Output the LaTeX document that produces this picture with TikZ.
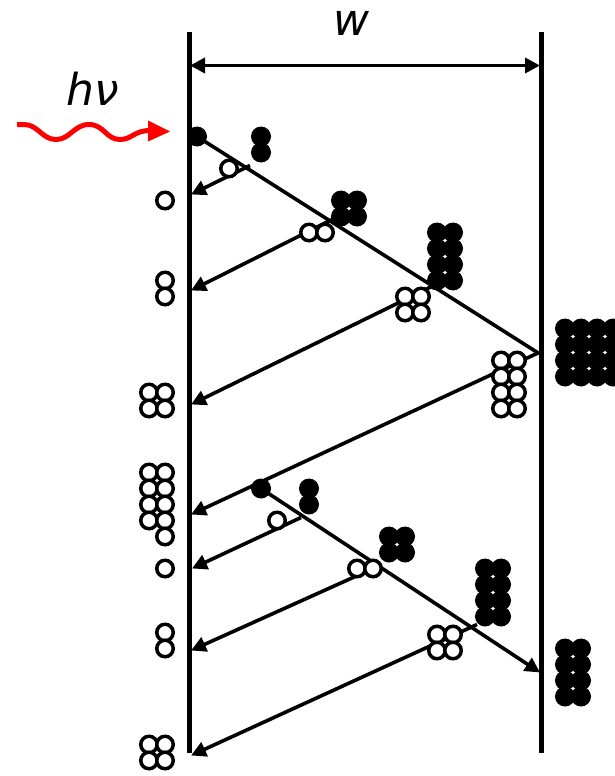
\documentclass[tikz,border=0pt]{standalone}
\usepackage{fontspec}
\setmainfont{DejaVu Sans}
\usetikzlibrary{arrows.meta}
\tikzset{
  x=1pt,y=-1pt,
  wall/.style={line width=5pt,line cap=butt},
  conn/.style={line width=3.6pt,-{Triangle[length=15pt,width=15pt]},shorten >=0pt},
  dim/.style={line width=3.6pt,{Triangle[length=15pt,width=15pt]}-{Triangle[length=15pt,width=15pt]}},
  holec/.style={circle,draw=black,fill=white,line width=3.5pt,inner sep=0pt,minimum size=16.5pt},
  elec/.style={circle,fill=black,inner sep=0pt,minimum size=20pt},
  lab/.style={font=\itshape\fontsize{44}{46}\selectfont,inner sep=0pt,anchor=base},
}
\newcommand{\grid}[4]{% style, prefix, xs, ys
  \foreach \gx in {#3} \foreach \gy in {#4} \node[#1] (#2-\gx-\gy) at (\gx,\gy) {};
}
\begin{document}
\begin{tikzpicture}
\useasboundingbox (0,-0.5) rectangle (615,775.5);
% coordinates
\coordinate (lt) at (189,32); \coordinate (lb) at (189,752);
\coordinate (rt) at (541,32); \coordinate (rb) at (541,752);
\coordinate (dl) at (190,65); \coordinate (dr) at (540,65);
\coordinate (s0) at (197,136); \coordinate (e0) at (539,353);
\coordinate (s1) at (250,165); \coordinate (e1) at (191,194);
\coordinate (s2) at (348,211); \coordinate (e2) at (191,290);
\coordinate (s3) at (444,280); \coordinate (e3) at (191,404);
\coordinate (s4) at (539,352); \coordinate (e4) at (191,514);
\coordinate (s5) at (261,488); \coordinate (e5) at (540,672);
\coordinate (s6) at (301,517); \coordinate (e6) at (192,568);
\coordinate (s7) at (373,568); \coordinate (e7) at (191,650);
\coordinate (s8) at (477,624); \coordinate (e8) at (191,755);
\coordinate (w0) at (17,124); \coordinate (w1) at (170,131);
% walls and connectors
\draw[wall] (lt) -- (lb);
\draw[wall] (rt) -- (rb);
\draw[dim] (dl) -- (dr);
\draw[line width=3.6pt,line cap=butt] (s0) -- (e0);
\foreach \i in {1,2,3,4,5,6,7,8} \draw[conn] (s\i) -- (e\i);
% photon
\draw[red,line width=5pt,line join=round] (w0) -- (24,124)
  .. controls (38,124) and (42,139) .. (56,139)
  .. controls (70,139) and (74,124) .. (89,124)
  .. controls (104,124) and (106,139) .. (120,139)
  .. controls (132,139) and (134,130) .. (150,130);
\fill[red] (148,120) -- (w1) -- (148,141) -- cycle;
% labels
\node[lab] (wlab) at (351,35) {w};
\node[lab] (hnu) at (93,105) {hν};
% electrons
\grid{elec}{a}{197}{136}
\grid{elec}{b}{261}{136,152}
\grid{elec}{c}{341,357}{200,216}
\grid{elec}{d}{437,453}{232,248,264,280}
\grid{elec}{f}{565,581,597,613}{328,344,360,376}
\grid{elec}{g}{261}{488}
\grid{elec}{h}{309}{488,504}
\grid{elec}{i}{389,405}{536,552}
\grid{elec}{j}{485,501}{568,584,600,616}
\grid{elec}{k}{565,581}{648,664,680,696}
% holes
\grid{holec}{p}{229}{168}
\grid{holec}{q}{309,325}{232}
\grid{holec}{r}{405,421}{296,312}
\grid{holec}{s}{501,517}{360,376,392,408}
\grid{holec}{t}{277}{520}
\grid{holec}{u}{357,373}{568}
\grid{holec}{v}{437,453}{634,650}
\grid{holec}{la}{165}{200}
\grid{holec}{lb}{165}{280,296}
\grid{holec}{lc}{149,165}{392,408}
\grid{holec}{ld}{149,165}{472,488,504,520}
\grid{holec}{le}{165}{536}
\grid{holec}{lf}{165}{568}
\grid{holec}{lg}{165}{632,648}
\grid{holec}{lh}{149,165}{744,760}
\end{tikzpicture}
\end{document}
